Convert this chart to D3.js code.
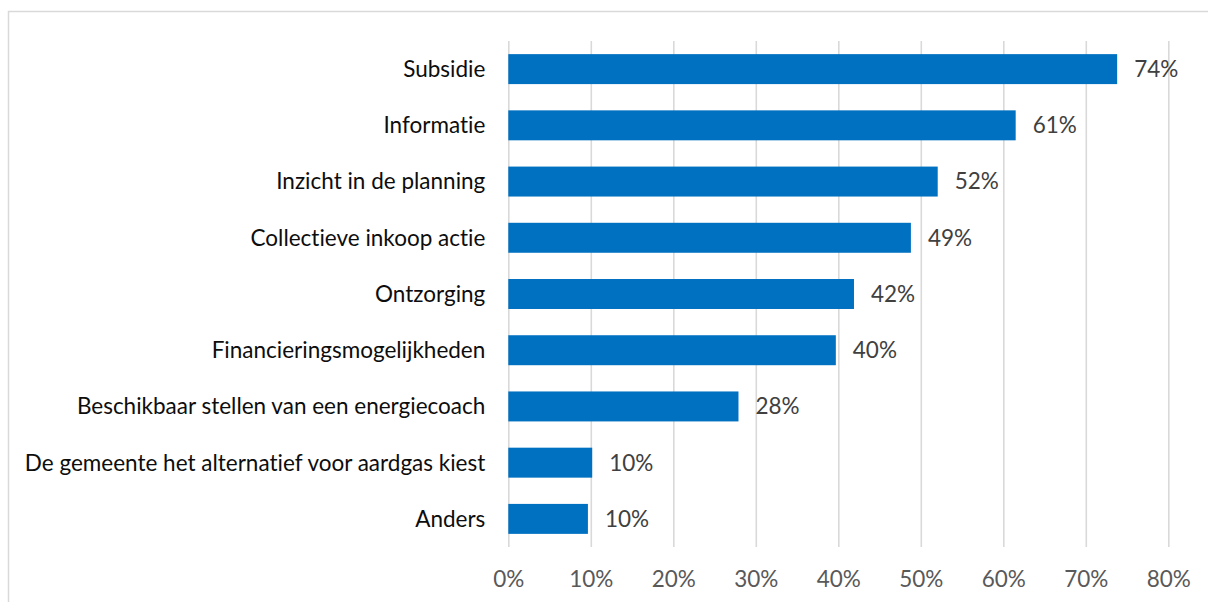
<!DOCTYPE html>
<html>
<head>
<meta charset="utf-8">
<script src="https://cdn.jsdelivr.net/npm/d3@7"></script>
<style>
  html, body { margin: 0; padding: 0; background: #fff; }
  svg { display: block; }
  text { font-variant-ligatures: none; font-feature-settings: "liga" 0, "clig" 0; }
</style>
</head>
<body>
<svg id="chart" width="1208" height="602"></svg>
<script>
const categories = [
  "Subsidie",
  "Informatie",
  "Inzicht in de planning",
  "Collectieve inkoop actie",
  "Ontzorging",
  "Financieringsmogelijkheden",
  "Beschikbaar stellen van een energiecoach",
  "De gemeente het alternatief voor aardgas kiest",
  "Anders"
];
const values = [0.738, 0.615, 0.5205, 0.488, 0.419, 0.397, 0.279, 0.1017, 0.0965];
const valueLabels = ["74%", "61%", "52%", "49%", "42%", "40%", "28%", "10%", "10%"];
const tickValues = [0, 0.1, 0.2, 0.3, 0.4, 0.5, 0.6, 0.7, 0.8];

const FONT = "Lato, 'Open Sans', sans-serif";
const FS = 22.5;

const svg = d3.select("#chart");

// chart frame (only left/top visible)
svg.append("rect")
  .attr("x", 8.5).attr("y", 11.5)
  .attr("width", 1400).attr("height", 800)
  .attr("fill", "none")
  .attr("stroke", "#D9D9D9")
  .attr("stroke-width", 1.5);

const plot = { left: 508.3, right: 1168.3, top: 41, bottom: 547 };

const x = d3.scaleLinear().domain([0, 0.8]).range([plot.left, plot.right]);
const y = d3.scaleBand().domain(categories).range([plot.top, plot.bottom])
  .paddingInner(0.467).paddingOuter(0.2335);

// gridlines via axis
const grid = svg.append("g")
  .attr("transform", `translate(0,${plot.bottom})`)
  .call(d3.axisBottom(x).tickValues(tickValues).tickSize(-(plot.bottom - plot.top)).tickFormat(""));
grid.select(".domain").remove();
grid.selectAll(".tick line").attr("stroke", "#D9D9D9").attr("stroke-width", 1.6);

// x tick labels
const xAxis = svg.append("g")
  .attr("transform", `translate(0,${plot.bottom})`)
  .call(d3.axisBottom(x).tickValues(tickValues).tickSize(0).tickPadding(0).tickFormat(d3.format(".0%")));
xAxis.select(".domain").remove();
xAxis.selectAll(".tick text")
  .attr("y", 0).attr("dy", 0)
  .attr("transform", "translate(0,40)")
  .attr("fill", "#595959")
  .style("font-family", FONT)
  .style("font-size", FS + "px");

// bars
svg.append("g").selectAll("rect")
  .data(categories)
  .join("rect")
  .attr("x", x(0))
  .attr("y", d => y(d))
  .attr("width", (d, i) => x(values[i]) - x(0))
  .attr("height", y.bandwidth())
  .attr("fill", "#0070C0");

// y axis labels
const yAxis = svg.append("g")
  .attr("transform", `translate(${plot.left},0)`)
  .call(d3.axisLeft(y).tickSize(0).tickPadding(23));
yAxis.select(".domain").remove();
yAxis.selectAll(".tick text")
  .attr("fill", "#0D0D0D")
  .attr("dy", "0.35em")
  .style("font-family", FONT)
  .style("font-size", FS + "px");

// data labels
svg.append("g").selectAll("text")
  .data(categories)
  .join("text")
  .attr("x", (d, i) => x(values[i]) + 17)
  .attr("y", d => y(d) + y.bandwidth() / 2)
  .attr("dy", "0.35em")
  .attr("fill", "#404040")
  .style("font-family", FONT)
  .style("font-size", FS + "px")
  .text((d, i) => valueLabels[i]);
</script>
</body>
</html>
